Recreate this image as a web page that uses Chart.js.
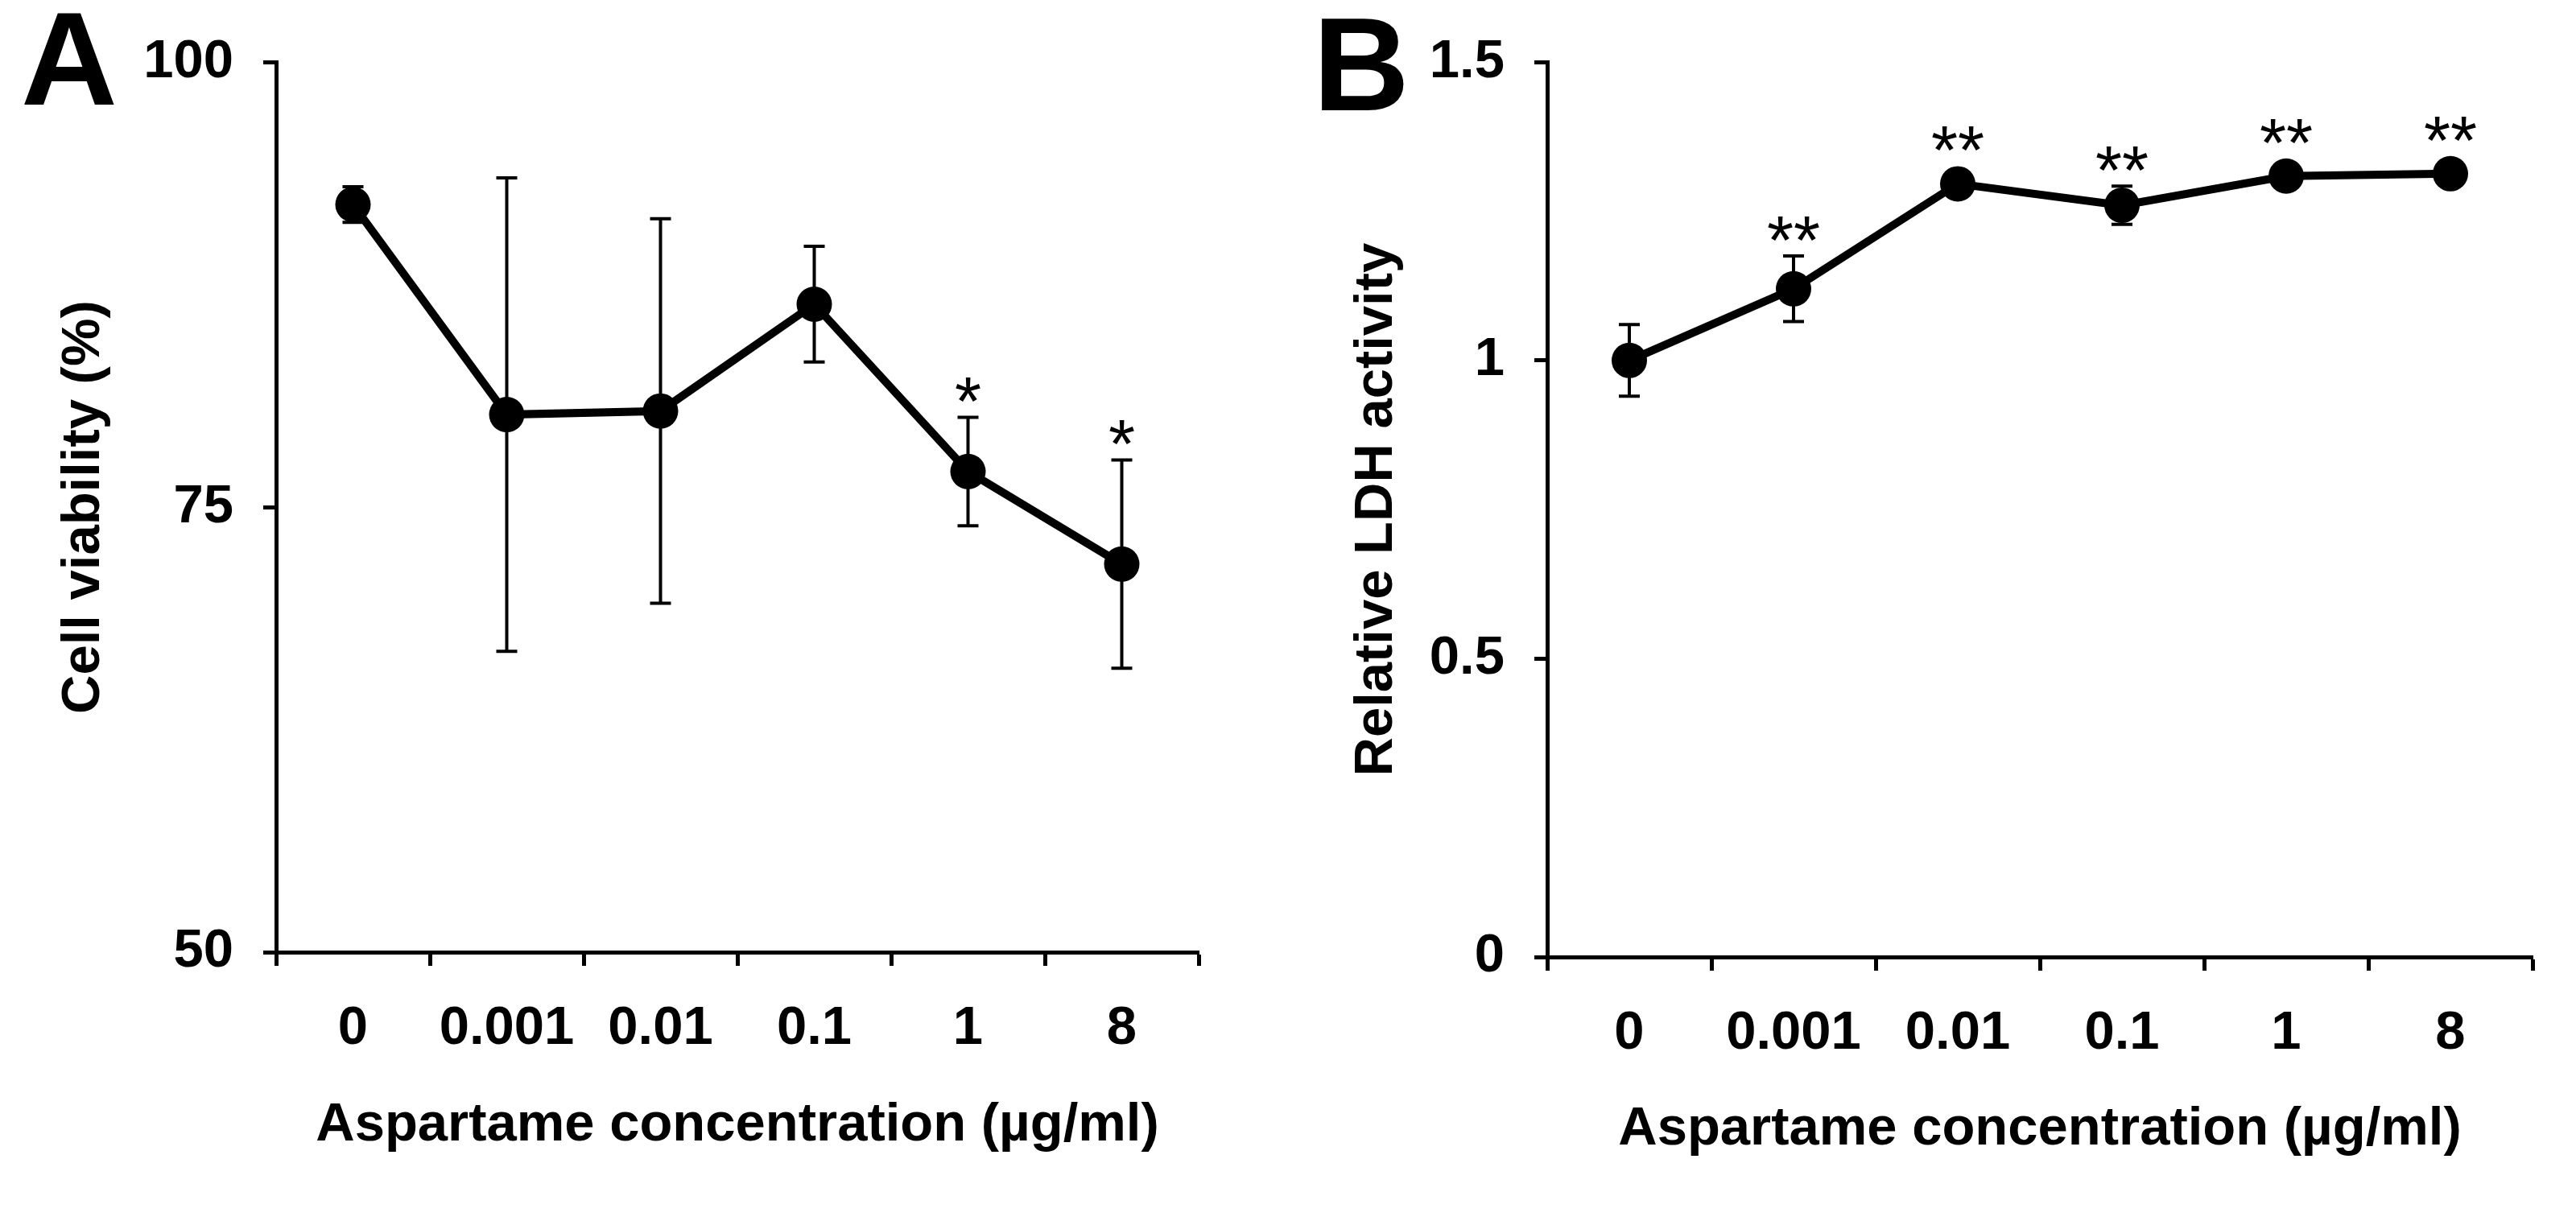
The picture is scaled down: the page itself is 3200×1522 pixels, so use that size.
<!DOCTYPE html>
<html>
<head>
<meta charset="utf-8">
<script src="https://cdn.jsdelivr.net/npm/chart.js@4.4.1/dist/chart.umd.min.js"></script>
<style>
  html, body { margin: 0; padding: 0; background: #fff; overflow: hidden; }
  .panel { position: absolute; top: 0; }
  #panelA { left: 0; }
  #panelB { left: 1600px; }
</style>
</head>
<body>
<canvas id="panelA" class="panel" width="1600" height="1522"></canvas>
<canvas id="panelB" class="panel" width="1600" height="1522"></canvas>
<script>
// Datos
const concentrations = ['0', '0.001', '0.01', '0.1', '1', '8'];

const viabilityMean = [92.0, 80.2, 80.4, 86.4, 77.0, 71.8];
const viabilityErr = [1.0, 13.3, 10.8, 3.25, 3.05, 5.85];
const viabilityMarks = ['', '', '', '', '*', '*'];
const viabilityTicks = [50, 75, 100];

const ldhMean = [1.00, 1.12, 1.296, 1.26, 1.309, 1.313];
const ldhErr = [0.06, 0.055, 0.012, 0.032, 0.012, 0.008];
const ldhMarks = ['', '**', '**', '**', '**', '**'];
const ldhTicks = [0, 0.5, 1, 1.5];

const FONT = '"Liberation Sans", Arial, Helvetica, sans-serif';

// Barras de error y asteriscos, dibujados con las escalas del gráfico
const errorBars = {
    id: 'errorBars',
    beforeDatasetsDraw(chart, args, opts) {
        const { ctx, scales: { x, y } } = chart;
        ctx.save();
        ctx.strokeStyle = '#000';
        ctx.lineWidth = 4;
        opts.mean.forEach((v, i) => {
            const px = x.getPixelForValue(i);
            const top = y.getPixelForValue(v + opts.err[i]);
            const bot = y.getPixelForValue(v - opts.err[i]);
            ctx.beginPath();
            ctx.moveTo(px, top); ctx.lineTo(px, bot);
            ctx.moveTo(px - 13, top); ctx.lineTo(px + 13, top);
            ctx.moveTo(px - 13, bot); ctx.lineTo(px + 13, bot);
            ctx.stroke();
        });
        ctx.restore();
    },
    afterDatasetsDraw(chart, args, opts) {
        const { ctx, scales: { x, y } } = chart;
        ctx.save();
        ctx.fillStyle = '#000';
        ctx.font = '85px ' + FONT;
        ctx.textAlign = 'center';
        ctx.textBaseline = 'alphabetic';
        opts.marks.forEach((m, i) => {
            if (!m) return;
            const v = opts.mean[i];
            const px = x.getPixelForValue(i);
            const errTop = y.getPixelForValue(v + opts.err[i]);
            const dotTop = y.getPixelForValue(v) - 22;
            const target = Math.min(errTop, dotTop) - 18;
            const mt = ctx.measureText(m);
            ctx.fillText(m, px, target - mt.actualBoundingBoxDescent);
        });
        ctx.restore();
    }
};

const panelLetter = {
    id: 'panelLetter',
    afterDraw(chart, args, opts) {
        const ctx = chart.ctx;
        ctx.save();
        ctx.fillStyle = '#000';
        ctx.font = 'bold 166px ' + FONT;
        ctx.textAlign = 'left';
        ctx.textBaseline = 'alphabetic';
        ctx.fillText(opts.text, opts.x, opts.y);
        ctx.restore();
    }
};

function buildChart(canvasId, cfg) {
    const tickFont = { family: FONT, size: 67, weight: 'bold' };
    return new Chart(document.getElementById(canvasId), {
        type: 'line',
        data: {
            labels: concentrations,
            datasets: [{
                data: cfg.mean,
                borderColor: '#000',
                backgroundColor: '#000',
                borderWidth: 10,
                pointRadius: 22,
                pointBackgroundColor: '#000',
                pointBorderWidth: 0,
                tension: 0
            }]
        },
        options: {
            responsive: false,
            animation: false,
            layout: { padding: cfg.padding },
            plugins: {
                legend: { display: false },
                tooltip: { enabled: false },
                errorBars: { mean: cfg.mean, err: cfg.err, marks: cfg.marks },
                panelLetter: cfg.letter
            },
            scales: {
                x: {
                    type: 'category',
                    offset: true,
                    grid: {
                        offset: true,
                        drawOnChartArea: false,
                        drawTicks: true,
                        tickLength: 17,
                        tickWidth: 5,
                        tickColor: '#000'
                    },
                    border: { display: true, color: '#000', width: 5 },
                    ticks: { color: '#000', font: tickFont, padding: 38, maxRotation: 0 },
                    title: {
                        display: true,
                        text: 'Aspartame concentration (µg/ml)',
                        color: '#000',
                        font: tickFont,
                        padding: { top: 0, bottom: cfg.xTitlePad }
                    },
                    afterFit: (scale) => { scale.height = cfg.xHeight; }
                },
                y: {
                    min: cfg.ticks[0],
                    max: cfg.ticks[cfg.ticks.length - 1],
                    afterBuildTicks: (scale) => { scale.ticks = cfg.ticks.map(v => ({ value: v })); },
                    grid: {
                        drawOnChartArea: false,
                        drawTicks: true,
                        tickLength: 16,
                        tickWidth: 5,
                        tickColor: '#000'
                    },
                    border: { display: true, color: '#000', width: 5 },
                    ticks: {
                        color: '#000',
                        font: tickFont,
                        padding: 37,
                        callback: (value) => String(value)
                    },
                    title: {
                        display: true,
                        text: cfg.yTitle,
                        color: '#000',
                        font: tickFont,
                        padding: { top: cfg.yTitlePad, bottom: 0 }
                    },
                    afterFit: (scale) => { scale.width = cfg.yWidth; }
                }
            }
        },
        plugins: [errorBars, panelLetter]
    });
}

// Panel A: viabilidad celular
buildChart('panelA', {
    mean: viabilityMean,
    err: viabilityErr,
    marks: viabilityMarks,
    ticks: viabilityTicks,
    yTitle: 'Cell viability (%)',
    padding: { top: 71, right: 111, left: 0, bottom: 0 },
    yWidth: 343,
    xHeight: 339,
    xTitlePad: 83,
    yTitlePad: 64,
    letter: { text: 'A', x: 26, y: 130 }
});

// Panel B: actividad LDH relativa
buildChart('panelB', {
    mean: ldhMean,
    err: ldhErr,
    marks: ldhMarks,
    ticks: ldhTicks,
    yTitle: 'Relative LDH activity',
    padding: { top: 77, right: 54, left: 0, bottom: 0 },
    yWidth: 322,
    xHeight: 333,
    xTitlePad: 78,
    yTitlePad: 70,
    letter: { text: 'B', x: 31, y: 137 }
});
</script>
</body>
</html>
